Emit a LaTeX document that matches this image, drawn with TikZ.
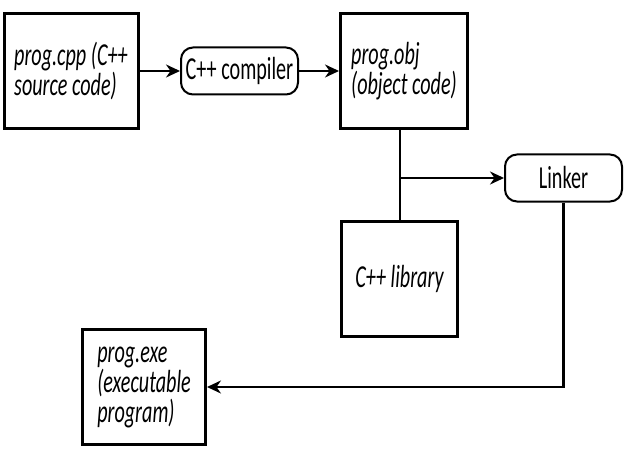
\documentclass[tikz,border=0pt]{standalone}
\usepackage{fontspec}
\setmainfont{Carlito}[FakeStretch=0.63]
\usetikzlibrary{arrows.meta,positioning}

\begin{document}
\begin{tikzpicture}[
		x=1pt, y=1pt,
		% Styles
		file/.style={rectangle, draw=black, line width=3pt, minimum width=#1, minimum height=115pt, inner xsep=8pt, font=\fontsize{32}{30}\selectfont\itshape, align=left},
		file/.default=128pt,
		tool/.style={rectangle, rounded corners=12pt, draw=black, line width=2pt, minimum width=117pt, minimum height=47pt, font=\fontsize{32}{30}\selectfont},
		% Arrows
		flow/.style={-{Stealth[length=14pt, width=13pt]}, line width=2.8pt},
		link/.style={line width=2pt},
		]

		\useasboundingbox (0,0) rectangle (633,451);

		% Source file
		\node[file=134pt] (cpp) at (71,380) {prog.cpp (C++\\source code)};

		% Compiler
		\node[tool] (compiler) at (239.5,380) {C++ compiler};

		% Object file
		\node[file=127pt] (obj) at (404,380) {prog.obj\\(object code)};

		% Library
		\node[file=116pt, align=center] (lib) at (399.5,172.5) {C++ library};

		% Linker
		\node[tool] (linker) at (563.5,273) {Linker};

		% Executable
		\node[file=123pt] (exe) at (144,64) {prog.exe\\(executable\\program)};

		% Connections
		\draw[flow] (cpp) -- (compiler);
		\draw[flow] (compiler) -- (obj);
		\draw[link] (obj.south -| lib.north) -- (lib.north);
		\coordinate (junction) at (lib.north |- linker.west);
		\draw[flow] (junction) -- (linker.west);
		\draw[flow] (linker.south) |- (exe.east);

	\end{tikzpicture}
\end{document}
